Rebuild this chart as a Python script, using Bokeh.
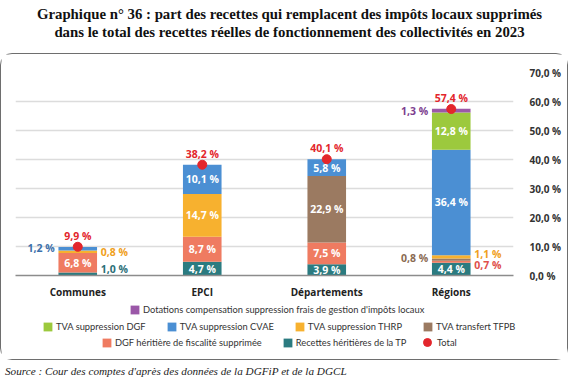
from bokeh.plotting import figure
from bokeh.models import (Range1d, FactorRange, Legend, LegendItem, CustomJSTickFormatter,
                          Div, ColumnDataSource, FixedTicker)
from bokeh.layouts import column, row
from bokeh.core.properties import value
from bokeh.embed import file_html
from bokeh.resources import INLINE

# ---------------- data ----------------
categories = ["Communes", "EPCI", "Départements", "Régions"]
recettes_tp = [1.0, 4.7, 3.9, 4.4]
dgf_heritiere = [6.8, 8.7, 7.5, 0.7]
tva_tfpb = [0.0, 0.0, 22.9, 0.8]
tva_thrp = [0.8, 14.7, 0.0, 1.1]
tva_cvae = [1.2, 10.1, 5.8, 36.4]
tva_dgf = [0.0, 0.0, 0.0, 12.8]
dotations = [0.0, 0.0, 0.0, 1.3]
total = [9.9, 38.2, 40.1, 57.4]
y_ticks = [0, 10, 20, 30, 40, 50, 60, 70]

series_keys = ["tp", "dgf", "tfpb", "thrp", "cvae", "tvadgf", "dot"]
series_vals = [recettes_tp, dgf_heritiere, tva_tfpb, tva_thrp, tva_cvae, tva_dgf, dotations]
series_names = ["Recettes héritières de la TP", "DGF héritière de fiscalité supprimée",
                "TVA transfert TFPB", "TVA suppression THRP", "TVA suppression CVAE",
                "TVA suppression DGF",
                "Dotations compensation suppression frais de gestion d'impôts locaux"]

# ---------------- styles ----------------
fill_colors = ["#2b7b80", "#ef7b61", "#9b7a61", "#f7b12f", "#4b8fd3", "#9cc93d", "#9b58a8"]
text_colors = ["#2b6f78", "#e0504a", "#8a6a52", "#f0a020", "#3b70ab", "#7ea52a", "#7d3f8f"]
red = "#e3262c"
FONT = "Open Sans"
LFONT = "Lato"
BAR_W = 0.31
# outside labels: (category index, series key) -> (side, shift in data units)
outside = {(0, "thrp"): ("right", 0.0), (0, "cvae"): ("left", 0.4), (0, "tp"): ("right", 1.6),
           (3, "dot"): ("left", -0.2), (3, "tfpb"): ("left", 0.4),
           (3, "thrp"): ("right", 1.1), (3, "dgf"): ("right", -1.0)}
# legend rows: (x, y) in pixels from the legend frame's bottom-left corner
legend_pos = [(114, 44), (27, 27), (86, 11)]
total_legend_pos = (402, 7)
W, ML, MR = 566, 14, 54

src = ColumnDataSource(dict(cat=categories, total=total,
                            **{k: v for k, v in zip(series_keys, series_vals)}))

p = figure(x_range=FactorRange(*categories), y_range=Range1d(0, 70),
           width=W, height=249, output_backend="svg", toolbar_location=None,
           y_axis_location="right", min_border_left=ML, min_border_right=MR,
           min_border_top=18, min_border_bottom=28, outline_line_color=None)
p.xgrid.grid_line_color = None
p.ygrid.grid_line_color = "#dcdcdc"
p.ygrid.grid_line_width = 1.5
p.yaxis.ticker = FixedTicker(ticks=y_ticks)
p.yaxis.formatter = CustomJSTickFormatter(code="return tick.toFixed(1).replace('.', ',') + ' %';")
p.yaxis.axis_line_color = None
p.yaxis.major_tick_line_color = None
p.yaxis.minor_tick_line_color = None
p.yaxis.major_label_standoff = 10
p.yaxis.major_label_text_font = FONT
p.yaxis.major_label_text_font_size = "10px"
p.yaxis.major_label_text_font_style = "bold"
p.yaxis.major_label_text_color = "#333333"

p.xaxis.axis_line_color = "#8c8c8c"
p.xaxis.axis_line_width = 1.5
p.xaxis.major_tick_line_color = None
p.xaxis.major_tick_out = 0
p.xaxis.major_tick_in = 0
p.xaxis.minor_tick_line_color = None
p.xaxis.major_label_standoff = 9
p.xaxis.major_label_text_font = FONT
p.xaxis.major_label_text_font_size = "10px"
p.xaxis.major_label_text_font_style = "bold"
p.xaxis.major_label_text_color = "#222222"

renderers = p.vbar_stack(series_keys, x="cat", width=BAR_W, color=fill_colors,
                         line_color=None, source=src)
dots = p.scatter(x="cat", y="total", size=9, color=red, source=src)

# segment labels
ins = dict(x=[], y=[], t=[])
outs = dict(x=[], y=[], t=[], c=[], a=[], xo=[])
for i, cat in enumerate(categories):
    base = 0.0
    for k, vals, tc in zip(series_keys, series_vals, text_colors):
        v = vals[i]
        if v <= 0:
            continue
        mid = base + v / 2
        txt = f"{v:.1f}".replace(".", ",") + " %"
        if (i, k) in outside:
            side, shift = outside[(i, k)]
            outs["x"].append(cat); outs["y"].append(mid + shift); outs["t"].append(txt)
            outs["c"].append(tc); outs["a"].append("left" if side == "right" else "right")
            outs["xo"].append(23 if side == "right" else -23)
        else:
            ins["x"].append(cat); ins["y"].append(mid); ins["t"].append(txt)
        base += v

p.text(x="x", y="y", text="t", source=ColumnDataSource(ins), text_color="white",
       text_align="center", text_baseline="middle", text_font=value(FONT),
       text_font_size="10.5px", text_font_style="bold")
p.text(x="x", y="y", text="t", source=ColumnDataSource(outs), text_color="c",
       text_align="a", x_offset="xo", text_baseline="middle", text_font=value(FONT),
       text_font_size="10.5px", text_font_style="bold")
tot_src = ColumnDataSource(dict(x=categories, y=[t + 3.7 for t in total],
                                t=[f"{t:.1f}".replace(".", ",") + " %" for t in total]))
p.text(x="x", y="y", text="t", source=tot_src, text_color=red, text_align="center",
       text_baseline="middle", text_font=value(FONT), text_font_size="10.5px",
       text_font_style="bold")

# ---------------- legend panel ----------------
lf = figure(width=W, height=56, output_backend="svg", toolbar_location=None,
            x_range=Range1d(0, 1), y_range=Range1d(0, 1), min_border_left=ML,
            min_border_right=0, min_border_top=0, min_border_bottom=0,
            outline_line_color=None)
lf.axis.visible = False
lf.grid.visible = False

lmap = {}
for k, c in zip(series_keys, fill_colors):
    lmap[k] = lf.vbar(x=[-5], top=[-5], bottom=[-6], width=0.1, color=c, line_color=None)
lmap["total"] = lf.scatter(x=[-5], y=[-5], size=9, color=red)

name_map = dict(zip(series_keys, series_names))
name_map["total"] = "Total"
leg_style = dict(orientation="horizontal", border_line_color=None, background_fill_alpha=0,
                 margin=0, padding=0, spacing=20, label_standoff=3, glyph_width=11,
                 glyph_height=11, label_height=12, label_text_font=LFONT,
                 label_text_font_size="9.3px", label_text_color="#333333",
                 label_text_baseline="middle")
rows = [["dot"], ["tvadgf", "cvae", "thrp", "tfpb"], ["dgf", "tp"]]
for r_keys, loc in zip(rows, legend_pos):
    items = [LegendItem(label=name_map[k], renderers=[lmap[k]]) for k in r_keys]
    lf.add_layout(Legend(items=items, location=loc, **leg_style), "center")
tot_style = dict(leg_style, glyph_width=20, glyph_height=20, label_standoff=0)
lf.add_layout(Legend(items=[LegendItem(label=name_map["total"], renderers=[lmap["total"]])],
                     location=total_legend_pos, **tot_style), "center")

box = column(p, row(lf, spacing=0), spacing=0,
             styles={"border": "1.5px solid #6e6e6e", "border-radius": "12px"})

title = Div(text="Graphique n° 36 : part des recettes qui remplacent des impôts locaux supprimés"
                 "<br>dans le total des recettes réelles de fonctionnement des collectivités en 2023",
            width=569, height=43,
            styles={"font-family": "Liberation Serif", "font-weight": "bold", "font-size": "14.8px",
                    "text-align": "center", "line-height": "18px", "color": "#111"})
source = Div(text="Source : Cour des comptes d'après des données de la DGFiP et de la DGCL",
             width=569, height=10,
             styles={"font-family": "Liberation Serif", "font-style": "italic",
                     "font-size": "11.2px", "line-height": "12px", "color": "#222"})

layout = column(title, box, source, spacing=0)
open("out.html", "w").write(file_html(layout, INLINE))
